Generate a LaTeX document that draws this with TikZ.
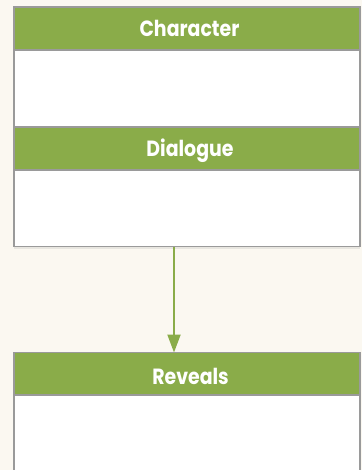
\documentclass[tikz,border=0pt]{standalone}
\usepackage{fontspec}
\setmainfont{Poppins}
\usetikzlibrary{arrows.meta,shadows}
\definecolor{bg}{HTML}{FBF8F1}
\definecolor{hdr}{HTML}{8AAC49}
\definecolor{brd}{HTML}{9A9A9A}
\tikzset{
  x=1pt,y=-1pt,
  card/.style={draw=brd,line width=1.2pt,fill=white,
    drop shadow={shadow xshift=0pt,shadow yshift=-2pt,opacity=0.15}},
  hdrbar/.style={draw=brd,line width=1.2pt,fill=hdr},
  hdrtext/.style={text=white,font=\fontsize{22}{22}\selectfont\bfseries,inner sep=0pt,xscale=0.86,anchor=base},
  flow/.style={draw=hdr,line width=2pt,-{Triangle[width=13pt,length=18pt]}}
}
\begin{document}
\begin{tikzpicture}
\fill[bg] (0,0) rectangle (362,470);
\useasboundingbox (0,0) rectangle (362,470);
% first card
\path[card] (14,7) rectangle (360,246.5);
\coordinate (c1s) at (174,246.5);
\path[hdrbar] (14,7) rectangle (360,50);
\node[hdrtext] (character) at (189.5,37) {Character};
\path[hdrbar] (14,127) rectangle (360,170);
\node[hdrtext] (dialogue) at (190,156.5) {Dialogue};
% second card
\path[card] (14,352.5) rectangle (360,480);
\path[hdrbar] (14,352.5) rectangle (360,395);
\coordinate (c2n) at (174,352.5);
\node[hdrtext] (reveals) at (190.5,384.5) {Reveals};
\draw[flow] (c1s) -- (c2n);
\end{tikzpicture}
\end{document}
